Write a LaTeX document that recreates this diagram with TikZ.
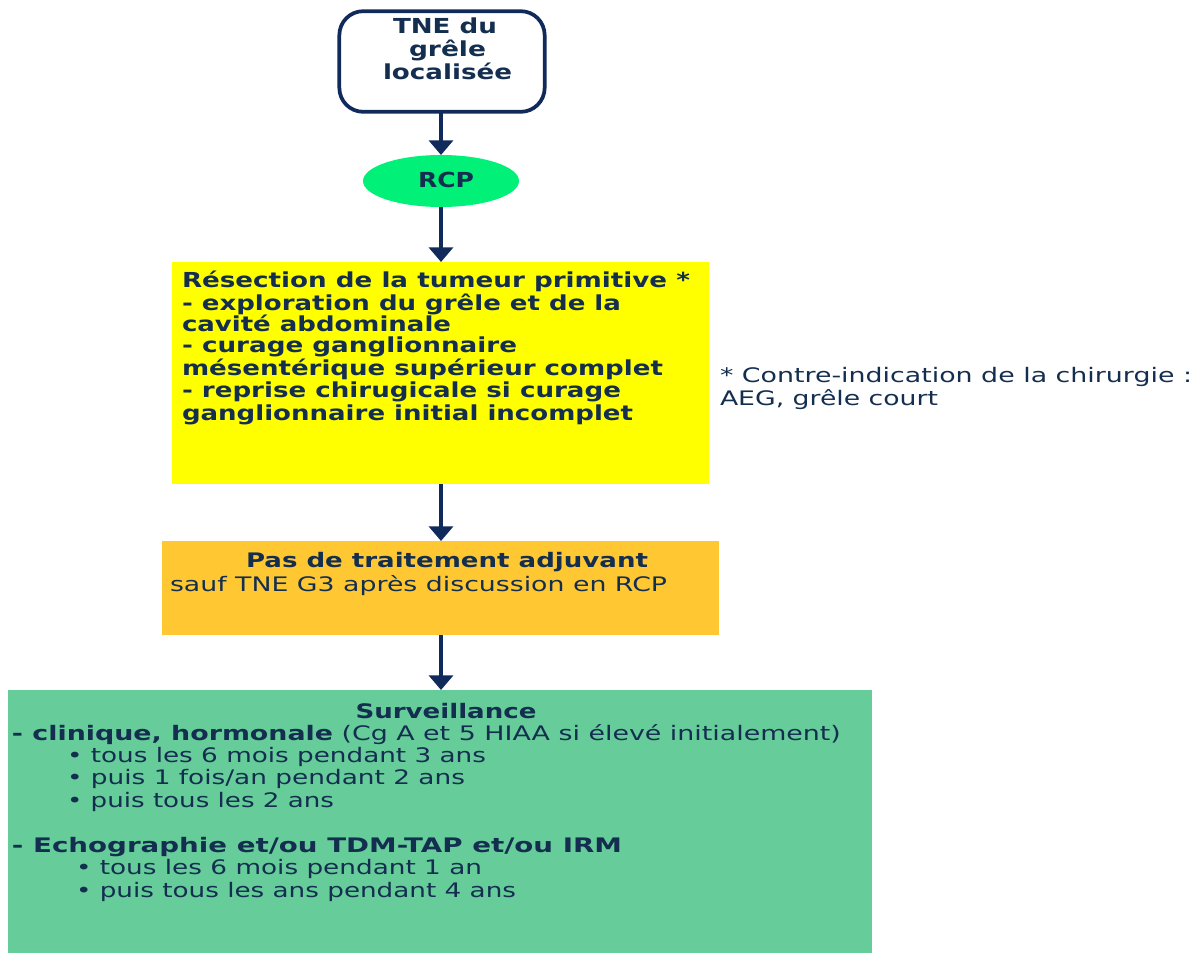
\documentclass[tikz,border=0pt]{standalone}
\usepackage{fontspec}
\setmainfont{DejaVu Sans}
\usepackage{graphicx}
\usetikzlibrary{arrows.meta,shapes.geometric}
\definecolor{navy}{RGB}{16,42,92}
\definecolor{tcol}{RGB}{20,46,80}
\definecolor{ellg}{RGB}{0,240,120}
\definecolor{yel}{RGB}{255,255,0}
\definecolor{org}{RGB}{255,200,50}
\definecolor{grn}{RGB}{102,204,153}
\newcommand\fitw[2]{\setbox0=\hbox{#2}\pgfmathsetmacro\fitfac{#1*0.75/\the\wd0}\scalebox{\fitfac}[1]{\copy0}}
\newcommand\fT{\fontsize{15.5}{16}\selectfont\bfseries}
\newcommand\fY{\fontsize{15.5}{16}\selectfont\bfseries}
\newcommand\fN{\fontsize{15}{16}\selectfont}
\newcommand\fO{\fontsize{15}{16}\selectfont}
\newcommand\fG{\fontsize{15}{16}\selectfont}
\tikzset{
  txt/.style={inner sep=0pt, outer sep=0pt, text=tcol, anchor=base west},
  ctxt/.style={txt, anchor=base},
  arr/.style={draw=navy, line width=2.7pt, -{Triangle[width=18pt,length=11pt]}},
  blk/.style={rectangle, inner sep=0pt, outer sep=0pt},
}
\begin{document}
\begin{tikzpicture}[x=0.75pt,y=-0.75pt]
\useasboundingbox (0,0) rectangle (1203,953);
% boxes
\node[blk, draw=navy, line width=2.8pt, rounded corners=18pt, fill=white,
      minimum width=154pt, minimum height=75.5pt] (tne) at (442,61.5) {};
\node[ellipse, inner sep=0pt, outer sep=0pt, fill=ellg,
      minimum width=117pt, minimum height=39pt] (rcp) at (441,181) {};
\node[blk, fill=yel, minimum width=402.75pt, minimum height=166.5pt] (res) at (440.5,373) {};
\node[blk, fill=org, minimum width=417.75pt, minimum height=70.5pt] (pas) at (440.5,588) {};
\node[blk, fill=grn, minimum width=648pt, minimum height=197.25pt] (sur) at (440,821.5) {};
% arrows
\draw[arr] (tne.south -| rcp.north) -- (rcp.north);
\draw[arr] (rcp.south) -- (rcp.south |- res.north);
\draw[arr] (res.south -| rcp.south) -- (rcp.south |- pas.north);
\draw[arr] (pas.south -| rcp.south) -- (rcp.south |- sur.north);
% TNE text
\node[ctxt] (t1) at (445,33) {\fitw{104}{\fT TNE du}};
\node[ctxt] (t2) at (447.5,56) {\fitw{77}{\fT grêle}};
\node[ctxt] (t3) at (447.5,79) {\fitw{129}{\fT localisée}};
% RCP
\node[ctxt] (r1) at (446,187) {\fitw{56}{\fT RCP}};
% yellow text
\node[txt] (y1) at (182,287) {\fitw{508}{\fY Résection de la tumeur primitive *}};
\node[txt] (y2) at (182,310) {\fitw{439}{\fY - exploration du grêle et de la}};
\node[txt] (y3) at (182,331) {\fitw{269}{\fY cavité abdominale}};
\node[txt] (y4) at (182,352) {\fitw{335}{\fY - curage ganglionnaire}};
\node[txt] (y5) at (182,375) {\fitw{481}{\fY mésentérique supérieur complet}};
\node[txt] (y6) at (182,397) {\fitw{439}{\fY - reprise chirugicale si curage}};
\node[txt] (y7) at (182,420) {\fitw{451}{\fY ganglionnaire initial incomplet}};
% note
\node[txt] (n1) at (720,382) {\fitw{472}{\fN * Contre-indication de la chirurgie :}};
\node[txt] (n2) at (720,405) {\fitw{218}{\fN AEG, grêle court}};
% orange text
\node[ctxt] (o1) at (447,567) {\fitw{402}{\fO\bfseries Pas de traitement adjuvant}};
\node[txt] (o2) at (170,591) {\fitw{497}{\fO sauf TNE G3 après discussion en RCP}};
% green text
\node[ctxt] (g1) at (446,718) {\fitw{181}{\fG\bfseries Surveillance}};
\node[txt] (g2) at (12,740) {\fitw{829}{\fG\textbf{- clinique, hormonale} (Cg A et 5 HIAA si élevé initialement)}};
\node[txt] (g3) at (67,762) {\fitw{419}{\fG •\ tous les 6 mois pendant 3 ans}};
\node[txt] (g4) at (67,784) {\fitw{398}{\fG •\ puis 1 fois/an pendant 2 ans}};
\node[txt] (g5) at (67,807) {\fitw{267}{\fG •\ puis tous les 2 ans}};
\node[txt] (g6) at (12,852) {\fitw{610}{\fG\bfseries - Echographie et/ou TDM-TAP et/ou IRM}};
\node[txt] (g7) at (76,874) {\fitw{406}{\fG •\ tous les 6 mois pendant 1 an}};
\node[txt] (g8) at (76,897) {\fitw{440}{\fG •\ puis tous les ans pendant 4 ans}};
\end{tikzpicture}
\end{document}
